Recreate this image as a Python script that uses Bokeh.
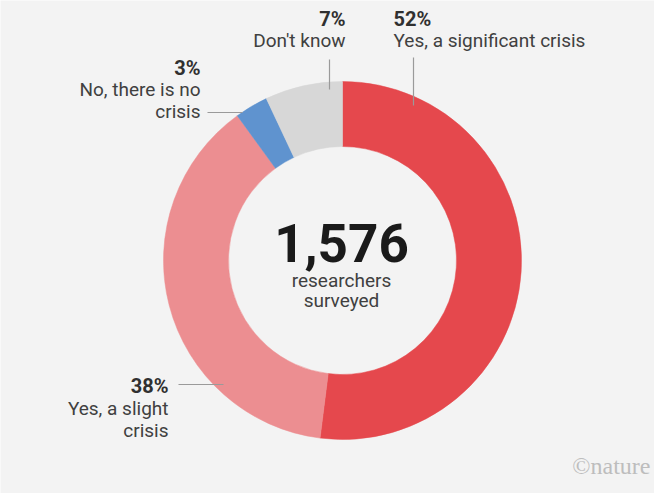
import math
from bokeh.plotting import figure
from bokeh.models import ColumnDataSource, Range1d
from bokeh.core.properties import value
from bokeh.embed import file_html
from bokeh.resources import INLINE

# ---- data ----
categories = ["Yes, a significant crisis", "Yes, a slight crisis", "No, there is no crisis", "Don't know"]
percentages = [52, 38, 3, 7]
colors = ["#e5484d", "#ec8e91", "#5f93cf", "#d7d7d7"]
total_surveyed = 1576
center_caption = ["researchers", "surveyed"]

W, H = 654, 493
cx, cy = 342, H - 260
r_in, r_out = 114, 179

p = figure(width=W, height=H, output_backend="svg", toolbar_location=None,
           x_range=Range1d(0, W), y_range=Range1d(0, H), min_border=0,
           background_fill_color="#f3f3f3", border_fill_color="#f3f3f3")
p.axis.visible = False
p.grid.visible = False
p.outline_line_color = None

# wedges, clockwise from top
tot = sum(percentages)
starts, ends = [], []
acc = 0
for v in percentages:
    starts.append(math.pi / 2 - 2 * math.pi * acc / tot)
    acc += v
    ends.append(math.pi / 2 - 2 * math.pi * acc / tot)
src = ColumnDataSource(dict(x=[cx] * len(percentages), y=[cy] * len(percentages),
                            start=starts, end=ends, color=colors, cat=categories))
p.annular_wedge(x="x", y="y", inner_radius=r_in, outer_radius=r_out,
                start_angle="start", end_angle="end", direction="clock",
                fill_color="color", line_color="color", line_width=0.5, source=src)

def Y(v):
    return H - v

def YB(b, size):
    # baseline correction for rendered text position
    return H - (b - 0.39 * size)

# leader lines (pixel layout)
seg = dict(x0=[329, 413, 207, 178], y0=[Y(59), Y(57), Y(112), Y(384)],
           x1=[329, 413, 242, 223], y1=[Y(89), Y(105), Y(112), Y(384)])
p.segment(x0="x0", y0="y0", x1="x1", y1="y1", source=ColumnDataSource(seg),
          line_color="#9a9a9a", line_width=1.2)

font = value("Roboto")
label_color = "#404040"
pct_color = "#303030"

labels = [
    (f"{percentages[3]}%", ["Don't know"], 345, "right", 26, [47]),
    (f"{percentages[0]}%", ["Yes, a significant crisis"], 393, "left", 26, [47]),
    (f"{percentages[2]}%", ["No, there is no", "crisis"], 200, "right", 75, [96, 118]),
    (f"{percentages[1]}%", ["Yes, a slight", "crisis"], 168, "right", 393, [415, 437]),
]
for pct, lines, x, align, yb, lb in labels:
    p.text(x=[x], y=[YB(yb, 20)], text=[pct], text_font=font, text_font_style="bold",
           text_font_size="20px", text_color=pct_color, text_align=align,
           text_baseline="alphabetic")
    p.text(x=[x] * len(lines), y=[YB(b, 19) for b in lb], text=lines, text_font=font,
           text_font_size="19px", text_color=label_color, text_align=align,
           text_baseline="alphabetic")

# center text
p.text(x=[341], y=[YB(263, 53)], text=[f"{total_surveyed:,}"],
       text_font=value("Roboto"), text_font_style="bold",
       text_font_size="53px", text_color="#1a1a1a", text_align="center",
       text_baseline="alphabetic")
p.text(x=[341, 341], y=[YB(287, 19), YB(307, 19)], text=center_caption, text_font=font,
       text_font_size="19px", text_color=label_color, text_align="center",
       text_baseline="alphabetic")

# credit
p.text(x=[650], y=[YB(475, 24)], text=["\u00a9nature"], text_font=value("Liberation Serif"),
       text_font_size="24px", text_color="#bdbdbd", text_align="right",
       text_baseline="alphabetic")

open("out.html", "w").write(file_html(p, INLINE))
